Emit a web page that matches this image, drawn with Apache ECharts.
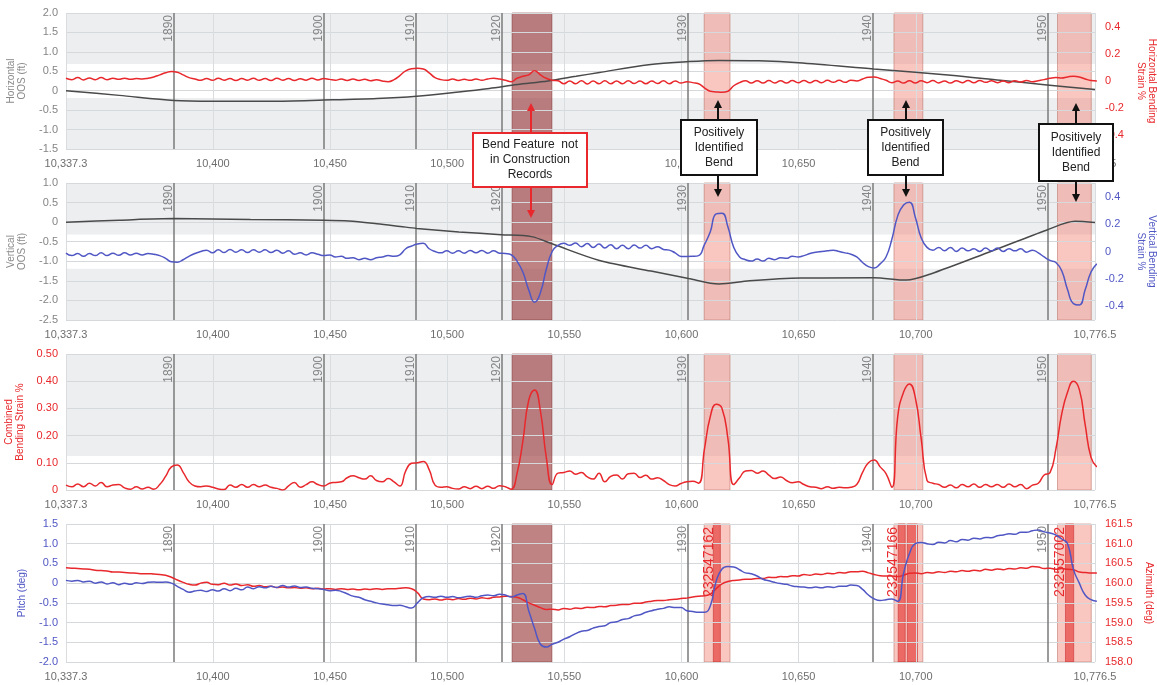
<!DOCTYPE html>
<html>
<head>
<meta charset="utf-8">
<script src="https://cdn.jsdelivr.net/npm/echarts@6.0.0/dist/echarts.min.js"></script>
<style>html,body{margin:0;padding:0;background:#fff}#main{width:1157px;height:685px}</style>
</head>
<body>
<div id="main"></div>
<script>
// distance axis
var xTicks = [10337.3, 10400, 10450, 10500, 10550, 10600, 10650, 10700, 10776.5];
var welds = ['1890', '1900', '1910', '1920', '1930', '1940', '1950'];
var weldDist = [10383.4, 10447.4, 10486.7, 10523.4, 10602.8, 10681.7, 10756.4];
var newBend = [10527.7, 10544.7];
var knownBends = [[10609.7, 10620.7], [10690.7, 10703.0], [10760.5, 10774.9]];
var fittings = [[10613.6, 10616.6], [10692.5, 10695.5], [10696.4, 10700.7], [10763.9, 10767.4]];
var fittingIds = ['232547162', '232547166', '232557002'];
var fittingIdDist = [10611.9, 10690.5, 10761.5];

// out-of-straightness (ft), read at feature points
var hOosDist = [10337.3, 10360, 10383.4, 10400, 10425, 10447.4, 10470, 10487, 10505, 10518, 10530, 10543, 10555, 10565, 10586, 10603, 10616, 10633, 10650, 10682, 10715, 10736, 10756, 10776.5];
var hOos = [0.0, -0.12, -0.25, -0.27, -0.27, -0.24, -0.20, -0.14, -0.03, 0.06, 0.16, 0.25, 0.37, 0.47, 0.67, 0.75, 0.78, 0.77, 0.72, 0.56, 0.40, 0.27, 0.15, 0.03];
var vOosDist = [10337.3, 10360, 10383.4, 10416, 10447.4, 10458, 10470, 10480, 10487, 10505, 10523, 10536, 10545, 10565, 10587, 10603, 10616, 10629, 10651, 10682, 10696, 10706, 10732, 10756, 10768, 10776.5];
var vOos = [0.0, 0.05, 0.09, 0.07, 0.05, 0.03, -0.04, -0.11, -0.16, -0.25, -0.32, -0.37, -0.56, -0.98, -1.25, -1.44, -1.58, -1.50, -1.43, -1.42, -1.48, -1.33, -0.75, -0.2, 0.02, -0.01];

// sampled every 2.5 ft from 10,337.3
var sampleStart = 10337.3, sampleStep = 2.5;
var hStrain = [0.02, 0.01, 0.025, 0.008, 0.022, 0.01, 0.025, 0.01, 0.02, 0.012, 0.02, 0.012, 0.018, 0.015, 0.02,
  0.03, 0.045, 0.06, 0.07, 0.065, 0.045, 0.025,
  0.015, 0.005, 0.018, 0.005, 0.02, 0.006, 0.018, 0.004, 0.018, 0.006, 0.02, 0.005, 0.018, 0.004, 0.02, 0.006, 0.018, 0.004, 0.016, 0.006, 0.02, 0.008, 0.018,
  0.012, 0.006, 0.015, 0.004, 0.014, 0.004, 0.012, 0.002, 0.01, 0.0, -0.005, 0.01,
  0.04, 0.075, 0.09, 0.093, 0.088, 0.06, 0.025, 0.01,
  0.005, 0.014, 0.004, 0.012, 0.005, 0.014, 0.006, 0.015, 0.02, 0.015, 0.005,
  -0.005, 0.02, 0.035, 0.045, 0.075, 0.045, 0.02, 0.006,
  0.002, -0.02, 0.0, -0.02, 0.002, -0.022, 0.0, -0.02, 0.002, -0.02, 0.0, -0.02, 0.002, -0.018, 0.0, -0.02, 0.0, -0.018, 0.002, -0.02, 0.0, -0.015, -0.005, -0.012,
  -0.02, -0.05, -0.075, -0.08, -0.083, -0.075, -0.035,
  -0.012, 0.002, -0.015, 0.002, -0.015, 0.003, -0.014, 0.002, -0.015, 0.003, -0.012, 0.004, -0.012, 0.004, -0.012, 0.005, -0.01, 0.005, -0.01, 0.006, 0.0,
  0.015, 0.028, 0.03, 0.018, 0.005,
  -0.012, 0.0, -0.015, 0.002, -0.014, 0.002, -0.012, 0.003, -0.014, 0.0, -0.015, 0.002, -0.012, 0.004, -0.012, 0.004, -0.01, 0.002, -0.012, 0.0, -0.012, 0.002, -0.008, 0.004, -0.006, 0.002,
  0.01, 0.02, 0.025, 0.022, 0.03, 0.035, 0.03, 0.015, 0.003, 0.0];
var vStrain = [-0.012, -0.03, -0.015, -0.035, -0.015, -0.03, -0.01, -0.03, -0.012, -0.028, -0.01, -0.025, -0.012, -0.025, -0.015, -0.02, -0.03,
  -0.05, -0.075, -0.078, -0.06, -0.035, -0.015,
  0.0, 0.01, -0.01, 0.012, -0.008, 0.015, -0.005, 0.012, -0.008, 0.012, -0.005, 0.012, -0.008, 0.01, -0.012, 0.005, -0.02, -0.01, -0.025, -0.01, -0.02,
  -0.03, -0.025, -0.04, -0.035, -0.05, -0.045, -0.06, -0.05, -0.06, -0.045, -0.04, -0.03, -0.035, -0.024,
  0.02, 0.04, 0.055, 0.06,
  0.02, 0.0, -0.01, 0.005, -0.012, 0.005, -0.012, 0.008, -0.01, 0.008, -0.012, 0.005, -0.012, -0.015,
  -0.024, -0.07, -0.15, -0.28, -0.37, -0.30, -0.13, 0.0, 0.045,
  0.06, 0.045, 0.062, 0.035, 0.058, 0.03, 0.055, 0.025, 0.05, 0.02, 0.045, 0.02, 0.048, 0.025, 0.045, 0.02, 0.035, 0.015, 0.01, -0.01,
  -0.036, -0.036, -0.035, -0.03,
  0.05, 0.144, 0.275, 0.28, 0.18, 0.03, -0.04, -0.06,
  -0.07, -0.055, -0.07, -0.05, -0.06, -0.045, -0.05, -0.035, -0.04,
  -0.03, -0.015, -0.005, 0.0, 0.005, 0.01, 0.0, -0.01,
  -0.02, -0.04, -0.08, -0.11, -0.12, -0.09,
  -0.04, 0.09, 0.26, 0.34, 0.36, 0.25, 0.1, 0.03,
  0.01, 0.03, 0.005, 0.03, 0.0, 0.025, 0.005, 0.02, 0.0, 0.025, 0.005, 0.025, 0.0, 0.02, 0.005, 0.02, -0.005, 0.01, -0.01,
  -0.04, -0.065, -0.08, -0.14, -0.28, -0.38, -0.39, -0.28, -0.15, -0.09];
var combined = [0.018, 0.012, 0.022, 0.012, 0.025, 0.015, 0.028, 0.012, 0.018, 0.02,
  0.008, 0.003, 0.012, 0.004, 0.01, 0.003, 0.02, 0.05, 0.085, 0.092,
  0.065, 0.03, 0.015, 0.012, 0.015, 0.01, 0.004, 0.002, 0.018, 0.01,
  0.02, 0.01, 0.02, 0.012, 0.018, 0.01, 0.006, 0.0, 0.015, 0.028,
  0.01, 0.02, 0.03, 0.02, 0.015, 0.025, 0.028, 0.03, 0.045, 0.052,
  0.045, 0.04, 0.052, 0.035, 0.03, 0.042, 0.03, 0.015, 0.07, 0.098,
  0.1, 0.105, 0.075, 0.018, 0.01, 0.012, 0.006, 0.004, 0.012, 0.005,
  0.014, 0.005, 0.014, 0.006, 0.016, 0.012, 0.003, 0.06, 0.18, 0.33,
  0.368, 0.29, 0.12, 0.02, 0.062, 0.064, 0.07, 0.058, 0.064, 0.048,
  0.04, 0.062, 0.03, 0.05, 0.055, 0.04, 0.06, 0.062, 0.046, 0.054,
  0.04, 0.045, 0.035, 0.02, 0.015, 0.024, 0.03, 0.032, 0.025, 0.15,
  0.27, 0.315, 0.3, 0.19, 0.02, 0.045, 0.07, 0.072, 0.062, 0.07,
  0.055, 0.042, 0.048, 0.035, 0.027, 0.03, 0.02, 0.012, 0.01, 0.005,
  0.012, 0.006, 0.01, 0.008, 0.01, 0.02, 0.065, 0.1, 0.11, 0.085,
  0.06, 0.01, 0.27, 0.36, 0.39, 0.34, 0.19, 0.035, 0.025, 0.02,
  0.01, 0.018, 0.008, 0.02, 0.012, 0.022, 0.01, 0.02, 0.012, 0.02,
  0.01, 0.022, 0.012, 0.02, 0.005, 0.018, 0.025, 0.055, 0.064, 0.15,
  0.28, 0.36, 0.4, 0.37, 0.24, 0.12, 0.085];
var pitch = [0.07, 0.05, 0.07, 0.03, 0.05, 0.0, 0.03, -0.02, 0.01, -0.04,
  0.0, -0.03, 0.01, -0.01, 0.02, 0.03, 0.02, 0.03, 0.0, -0.08,
  -0.16, -0.23, -0.2, -0.18, -0.21, -0.17, -0.2, -0.14, -0.19, -0.13,
  -0.17, -0.1, -0.14, -0.09, -0.12, -0.08, -0.11, -0.06, -0.1, -0.07,
  -0.11, -0.1, -0.13, -0.14, -0.16, -0.19, -0.18, -0.21, -0.27, -0.33,
  -0.36, -0.42, -0.46, -0.5, -0.53, -0.55, -0.57, -0.56, -0.6, -0.63,
  -0.5, -0.37, -0.34, -0.36, -0.33, -0.36, -0.34, -0.37, -0.35, -0.33,
  -0.36, -0.32, -0.3, -0.32, -0.28, -0.3, -0.35, -0.3, -0.26, -0.7,
  -1.15, -1.55, -1.62, -1.55, -1.5, -1.42, -1.36, -1.28, -1.22, -1.2,
  -1.14, -1.1, -1.08, -1.0, -0.98, -0.92, -0.9, -0.83, -0.8, -0.74,
  -0.7, -0.66, -0.64, -0.6, -0.62, -0.62, -0.7, -0.72, -0.74, -0.74,
  -0.58, 0.05, 0.36, 0.42, 0.41, 0.34, 0.26, 0.24, 0.18, 0.1,
  0.06, 0.02, -0.01, -0.03, -0.07, -0.09, -0.1, -0.12, -0.1, -0.12,
  -0.09, -0.11, -0.08, -0.08, -0.05, -0.06, -0.16, -0.3, -0.4, -0.44,
  -0.42, -0.4, -0.46, 0.25, 0.75, 1.0, 1.03, 1.0, 0.98, 1.04,
  1.02, 1.08, 1.05, 1.11, 1.09, 1.14, 1.12, 1.16, 1.15, 1.2,
  1.22, 1.25, 1.24, 1.29, 1.29, 1.33, 1.35, 1.3, 1.27, 1.22,
  1.12, 1.0, 0.35, 0.0, -0.3, -0.42, -0.46];
var azimuth = [160.39, 160.38, 160.37, 160.36, 160.35, 160.33, 160.32, 160.31, 160.28, 160.28,
  160.27, 160.26, 160.25, 160.24, 160.24, 160.23, 160.22, 160.2, 160.15, 160.08,
  160.02, 159.97, 159.95, 160.0, 160.02, 159.97, 159.96, 160.0, 159.95, 159.98,
  159.94, 159.96, 159.92, 159.94, 159.91, 159.92, 159.89, 159.9, 159.88, 159.89,
  159.87, 159.88, 159.86, 159.87, 159.85, 159.86, 159.84, 159.86, 159.84, 159.85,
  159.83, 159.85, 159.84, 159.86, 159.84, 159.86, 159.86, 159.87, 159.88, 159.86,
  159.76, 159.6, 159.58, 159.6, 159.57, 159.6, 159.58, 159.61, 159.59, 159.62,
  159.6, 159.63, 159.61, 159.64, 159.65, 159.67, 159.66, 159.64, 159.58, 159.5,
  159.44, 159.38, 159.33, 159.34, 159.32, 159.36, 159.34, 159.37, 159.36, 159.39,
  159.38, 159.41, 159.4, 159.43, 159.44, 159.46, 159.46, 159.49, 159.49, 159.52,
  159.54, 159.56, 159.56, 159.58, 159.59, 159.61, 159.62, 159.65, 159.67, 159.68,
  159.72, 159.86, 159.98, 160.04, 160.07, 160.08, 160.1, 160.1, 160.12, 160.12,
  160.15, 160.14, 160.17, 160.16, 160.19, 160.18, 160.22, 160.2, 160.23, 160.22,
  160.25, 160.24, 160.27, 160.26, 160.29, 160.29, 160.3, 160.26, 160.22, 160.19,
  160.18, 160.18, 160.17, 160.2, 160.25, 160.26, 160.24, 160.27, 160.26, 160.29,
  160.27, 160.3, 160.29, 160.32, 160.3, 160.33, 160.31, 160.35, 160.33, 160.36,
  160.34, 160.37, 160.36, 160.39, 160.38, 160.42, 160.41, 160.37, 160.38, 160.35,
  160.37, 160.35, 160.34, 160.28, 160.27, 160.26, 160.26];

var strainTicks = [-0.4, -0.2, 0, 0.2, 0.4];
var strainLimit = 0.125;

var RED = '#e8282c', BLUE = '#5057c4', DARK = '#4a4a4a', GRAY_BG = '#eceef0';
var FONT = '"Liberation Sans", Arial, sans-serif';

var sampled = function (arr) { return arr.map(function (v, i) { return [sampleStart + i * sampleStep, v]; }); };
var paired = function (xs, ys) { return xs.map(function (x, i) { return [x, ys[i]]; }); };
var fmt1 = function (v) { return v === 0 ? '0' : v.toFixed(1); };
var fmt2 = function (v) { return v === 0 ? '0' : v.toFixed(2); };

var tops = [13, 183, 354, 524];
var heights = [136, 137, 136, 138];

var grids = tops.map(function (t, i) {
  return { left: 66, right: 62, top: t, height: heights[i], containLabel: false, outerBoundsMode: 'none' };
});

var xAxes = tops.map(function (t, i) {
  return {
    type: 'value', gridIndex: i, min: xTicks[0], max: xTicks[xTicks.length - 1],
    axisLine: { show: false }, axisTick: { show: false, customValues: xTicks },
    splitLine: { show: true, lineStyle: { color: '#dadde0', width: 1 } },
    axisLabel: {
      customValues: xTicks, color: '#6e6e6e', fontSize: 11, margin: 9, fontFamily: FONT,
      formatter: function (v) { return v.toLocaleString('en-US', { maximumFractionDigits: 1 }); }
    }
  };
});

function yLeft(grid, min, max, interval, name, color, nameColor, fmt, gap) {
  return {
    type: 'value', gridIndex: grid, position: 'left', min: min, max: max, interval: interval,
    name: name, nameLocation: 'middle', nameGap: gap,
    nameTextStyle: { color: nameColor, fontSize: 10, lineHeight: 11, fontFamily: FONT },
    axisLine: { show: false }, axisTick: { show: false },
    splitLine: { lineStyle: { color: '#d6d9dc' } },
    axisLabel: { color: color, fontSize: 11, margin: 8, formatter: fmt, fontFamily: FONT }
  };
}
function yRight(grid, min, max, name, color, opts) {
  var ax = {
    type: 'value', gridIndex: grid, position: 'right', min: min, max: max,
    name: name, nameLocation: 'middle', nameGap: 29, nameRotate: -90,
    nameTextStyle: { color: color, fontSize: 10, lineHeight: 11, fontFamily: FONT },
    axisLine: { show: false }, axisTick: { show: false }, splitLine: { show: false },
    axisLabel: { color: color, fontSize: 11, margin: 10, fontFamily: FONT }
  };
  for (var k in opts) {
    if (k === 'axisLabel') { for (var j in opts[k]) ax.axisLabel[j] = opts[k][j]; }
    else ax[k] = opts[k];
  }
  return ax;
}

var yAxes = [
  yLeft(0, -1.5, 2.0, 0.5, 'Horizontal\nOOS (ft)', '#858585', '#8a8a8a', fmt1, 35),
  yRight(0, -0.5, 0.5, 'Horizontal Bending\nStrain %', RED, { axisLabel: { customValues: strainTicks, formatter: fmt1 } }),
  yLeft(1, -2.5, 1.0, 0.5, 'Vertical\nOOS (ft)', '#858585', '#8a8a8a', fmt1, 35),
  yRight(1, -0.5, 0.5, 'Vertical Bending\nStrain %', BLUE, { axisLabel: { customValues: strainTicks, formatter: fmt1 } }),
  yLeft(2, 0, 0.5, 0.1, 'Combined\nBending Strain %', RED, RED, fmt2, 36),
  yLeft(3, -2.0, 1.5, 0.5, 'Pitch (deg)', BLUE, BLUE, fmt1, 32),
  yRight(3, 158.0, 161.5, 'Azimuth (deg)', RED, { interval: 0.5, nameGap: 37, axisLabel: { formatter: function (v) { return v.toFixed(1); } } })
];

function bandItems(withFittings) {
  var items = [[{ xAxis: newBend[0], itemStyle: { color: 'rgba(150,48,50,0.6)', borderColor: 'rgba(120,40,40,0.5)', borderWidth: 1 } }, { xAxis: newBend[1] }]];
  knownBends.forEach(function (b) {
    items.push([{ xAxis: b[0], itemStyle: { color: 'rgba(242,118,104,0.42)', borderColor: 'rgba(190,120,110,0.6)', borderWidth: 1 } }, { xAxis: b[1] }]);
  });
  if (withFittings) {
    fittings.forEach(function (f) {
      items.push([{ xAxis: f[0], itemStyle: { color: 'rgba(228,70,66,0.72)', borderColor: 'rgba(200,50,50,0.6)', borderWidth: 1 } }, { xAxis: f[1] }]);
    });
  }
  return items;
}
function grayItems(lo, hi, top, bottom) {
  var items = [];
  if (hi < top) items.push([{ yAxis: hi, itemStyle: { color: GRAY_BG } }, { yAxis: top }]);
  if (lo !== null && lo > bottom) items.push([{ yAxis: bottom, itemStyle: { color: GRAY_BG } }, { yAxis: lo }]);
  return items;
}
function weldItems() {
  return weldDist.map(function (d, i) { return { xAxis: d, label: { formatter: welds[i] } }; });
}

function backdrop(grid, yIdx, gray, withFittings) {
  var lines = weldItems();
  if (withFittings) {
    fittingIds.forEach(function (id, i) {
      lines.push({
        xAxis: fittingIdDist[i], lineStyle: { color: 'rgba(0,0,0,0)', width: 1 },
        label: { formatter: id, color: RED, fontSize: 14, position: 'insideEnd', distance: [3, 0] }
      });
    });
  }
  return {
    type: 'line', xAxisIndex: grid, yAxisIndex: yIdx, data: [], silent: true,
    markArea: { silent: true, z: -1, data: gray.concat(bandItems(withFittings)) },
    markLine: {
      silent: true, z: 1, symbol: ['none', 'none'], animation: false,
      lineStyle: { color: '#7a7a7a', width: 1.5, type: 'solid' },
      label: { position: 'insideEndTop', color: '#858585', fontSize: 12, distance: [2, -1], fontFamily: FONT },
      emphasis: { disabled: true },
      data: lines
    }
  };
}

function lineSeries(grid, yIdx, data, color, smooth) {
  return {
    type: 'line', xAxisIndex: grid, yAxisIndex: yIdx, data: data, showSymbol: false, symbol: 'none',
    smooth: smooth, lineStyle: { color: color, width: 1.5 }, itemStyle: { color: color }, z: 3, silent: true
  };
}

var series = [
  backdrop(0, 1, grayItems(-strainLimit, strainLimit, 0.5, -0.5), false),
  backdrop(1, 3, grayItems(-strainLimit, strainLimit, 0.5, -0.5), false),
  backdrop(2, 4, grayItems(null, strainLimit, 0.5, 0), false),
  backdrop(3, 5, [], true),
  lineSeries(0, 0, paired(hOosDist, hOos), DARK, 0.3),
  lineSeries(0, 1, sampled(hStrain), RED, 0.5),
  lineSeries(1, 2, paired(vOosDist, vOos), DARK, 0.3),
  lineSeries(1, 3, sampled(vStrain), BLUE, 0.5),
  lineSeries(2, 4, sampled(combined), RED, 0.5),
  lineSeries(3, 6, sampled(azimuth), RED, 0.5),
  lineSeries(3, 5, sampled(pitch), BLUE, 0.5)
];

// annotation call-outs (pixel layout)
var notes = [
  { x: 473, y: 133, w: 114, h: 54, color: RED, text: 'Bend Feature  not\nin Construction\nRecords', ax: 531, up: 103, down: 218 },
  { x: 681, y: 120, w: 76, h: 55, color: '#111', text: 'Positively\nIdentified\nBend', ax: 718, up: 100, down: 197 },
  { x: 868, y: 120, w: 75, h: 55, color: '#111', text: 'Positively\nIdentified\nBend', ax: 906, up: 100, down: 197 },
  { x: 1039, y: 124, w: 74, h: 57, color: '#111', text: 'Positively\nIdentified\nBend', ax: 1076, up: 103, down: 202 }
];
var graphics = [];
notes.forEach(function (n) {
  graphics.push({ type: 'rect', z: 100, shape: { x: n.x, y: n.y, width: n.w, height: n.h }, style: { fill: '#fff', stroke: n.color, lineWidth: 2 } });
  graphics.push({ type: 'text', z: 101, style: { text: n.text, x: n.x + n.w / 2, y: n.y + n.h / 2, align: 'center', verticalAlign: 'middle', font: '12px ' + FONT, lineHeight: 15, fill: '#222' } });
  graphics.push({ type: 'line', z: 100, shape: { x1: n.ax, y1: n.y, x2: n.ax, y2: n.up + 6 }, style: { stroke: n.color, lineWidth: 2 } });
  graphics.push({ type: 'polygon', z: 100, shape: { points: [[n.ax - 4, n.up + 8], [n.ax + 4, n.up + 8], [n.ax, n.up]] }, style: { fill: n.color } });
  graphics.push({ type: 'line', z: 100, shape: { x1: n.ax, y1: n.y + n.h, x2: n.ax, y2: n.down - 6 }, style: { stroke: n.color, lineWidth: 2 } });
  graphics.push({ type: 'polygon', z: 100, shape: { points: [[n.ax - 4, n.down - 8], [n.ax + 4, n.down - 8], [n.ax, n.down]] }, style: { fill: n.color } });
});

var myChart = echarts.init(document.getElementById('main'));
var option = {
  animation: false,
  backgroundColor: '#fff',
  textStyle: { fontFamily: FONT },
  grid: grids,
  xAxis: xAxes,
  yAxis: yAxes,
  series: series,
  graphic: graphics
};
myChart.setOption(option);
</script>
</body>
</html>
